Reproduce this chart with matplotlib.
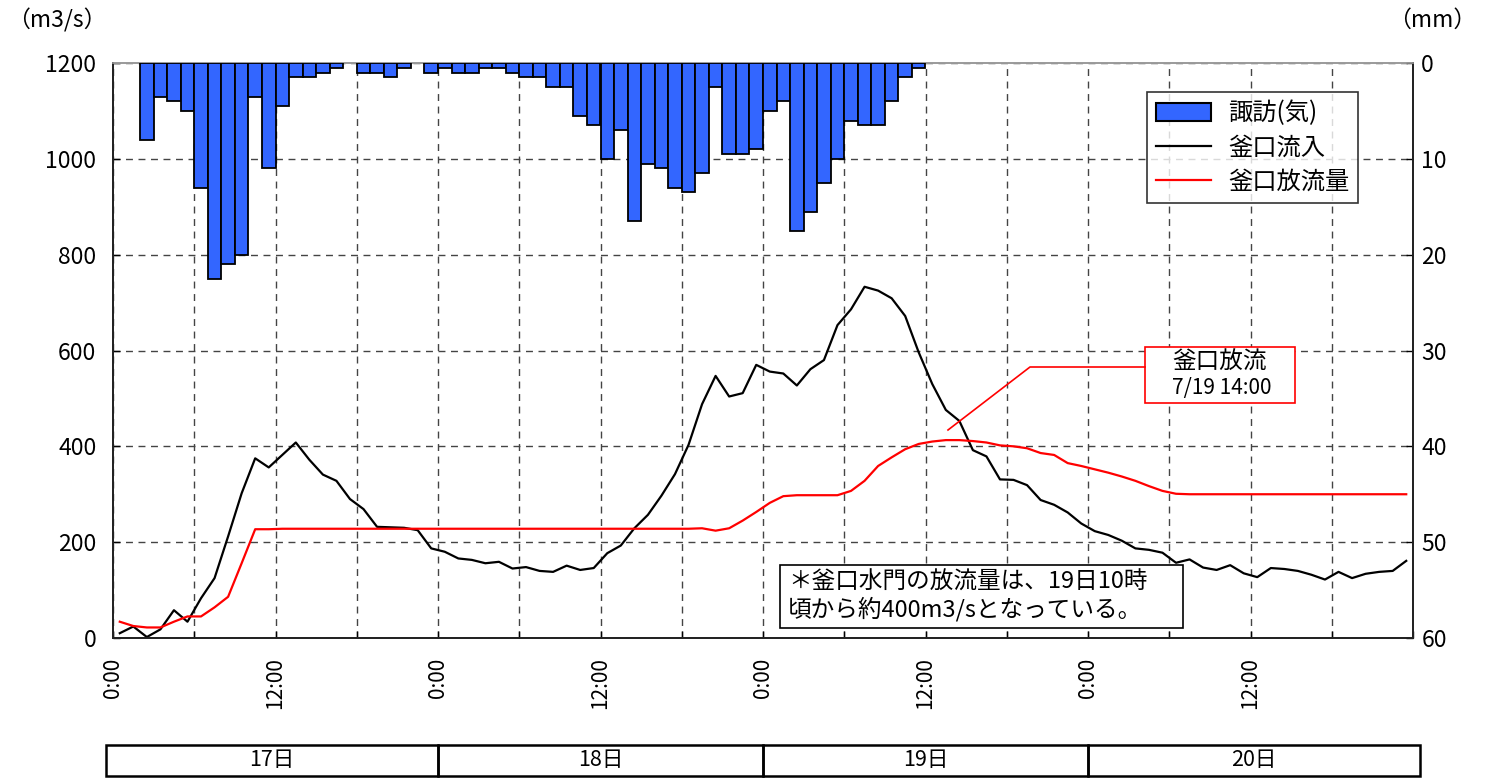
import numpy as np
import matplotlib
matplotlib.use("Agg")
import matplotlib.pyplot as plt
from matplotlib.patches import Patch, Rectangle
from matplotlib.lines import Line2D
import matplotlib.transforms as mtransforms

plt.rcParams['font.family'] = ['Noto Sans CJK JP', 'DejaVu Sans']

# ---------------- data ----------------
# hourly categories from 17日 0:00 to 20日 23:00
hours = np.arange(96)

# hourly rainfall (mm) at 諏訪(気), hours 0..59 (rest 0)
rain_obs = [0, 0, 8, 3.5, 4, 5, 13, 22.5, 21, 20,
            3.5, 11, 4.5, 1.5, 1.5, 1, 0.5, 0, 1, 1,
            1.5, 0.5, 0, 1, 0.5, 1, 1, 0.5, 0.5, 1,
            1.5, 1.5, 2.5, 2.5, 5.5, 6.5, 10, 7, 16.5, 10.5,
            11, 13, 13.5, 11.5, 2.5, 9.5, 9.5, 9, 5, 4,
            17.5, 15.5, 12.5, 10, 6, 6.5, 6.5, 4, 1.5, 0.5]

# 釜口流入 (m3/s)
inflow = [10, 24, 2, 18, 58, 34, 83, 125, 212, 302,
          375, 356, 382, 408, 372, 341, 328, 290, 269, 232,
          231, 230, 225, 187, 180, 166, 163, 156, 159, 145,
          148, 140, 138, 151, 142, 146, 177, 193, 229, 257,
          297, 342, 403, 488, 547, 504, 511, 570, 556, 552,
          527, 561, 580, 653, 686, 733, 725, 709, 672, 596,
          530, 476, 453, 392, 379, 331, 330, 319, 288, 278,
          262, 239, 223, 215, 203, 187, 184, 178, 157, 164,
          147, 142, 152, 135, 127, 146, 144, 140, 132, 122,
          138, 125, 134, 138, 140, 161]

# 釜口放流量 (m3/s)
outflow = [34, 25, 22, 22, 34, 45, 45, 64, 86, 156,
           227, 227, 228, 228, 228, 228, 228, 228, 228, 228,
           228, 228, 228, 228, 228, 228, 228, 228, 228, 228,
           228, 228, 228, 228, 228, 228, 228, 228, 228, 228,
           228, 228, 228, 229, 224, 229, 245, 263, 282, 296,
           298, 298, 298, 298, 307, 328, 359, 377, 394, 405,
           410, 413, 413, 411, 408, 402, 400, 396, 386, 382,
           365, 359, 352, 345, 337, 328, 317, 307, 301, 300,
           300, 300, 300, 300, 300, 300, 300, 300, 300, 300,
           300, 300, 300, 300, 300, 300]

xtick_hours = [0, 12, 24, 36, 48, 60, 72, 84]
xtick_labels = ['0:00', '12:00', '0:00', '12:00', '0:00', '12:00', '0:00', '12:00']
days = ['17日', '18日', '19日', '20日']
yticks_left = [0, 200, 400, 600, 800, 1000, 1200]
yticks_right = [0, 10, 20, 30, 40, 50, 60]

legend_labels = ['諏訪(気)', '釜口流入', '釜口放流量']
callout_title = '釜口放流'
callout_time = '7/19 14:00'
note_text = '＊釜口水門の放流量は、19日10時\n頃から約400m3/sとなっている。'

# ---------------- figure ----------------
W, H = 1490, 778
fig = plt.figure(figsize=(W / 100, H / 100), dpi=100)
L, R, T, B = 113, 1413, 63, 638
ax = fig.add_axes([L / W, 1 - B / H, (R - L) / W, (B - T) / H])
ax2 = ax.twinx()

x = hours + 0.5
rain = np.zeros(len(hours))
rain[:len(rain_obs)] = rain_obs
mask = rain > 0

ax2.bar(x[mask], rain[mask], width=1.0, color='#3366FF', edgecolor='black',
        linewidth=1.3, zorder=3)
ax.plot(x, inflow, color='black', lw=1.6, zorder=4)
ax.plot(x, outflow, color='#FF0000', lw=1.6, zorder=4)

ax.set_xlim(0, 96)
ax.set_ylim(0, 1200)
ax2.set_ylim(60, 0)

grid_x = np.arange(0, 97, 6)
ax.set_xticks(grid_x)
lab = {h: l for h, l in zip(xtick_hours, xtick_labels)}
ax.set_xticklabels([lab.get(h, '') for h in grid_x], rotation=90, fontsize=15)
ax.set_yticks(yticks_left)
ax.set_yticklabels([str(v) for v in yticks_left], fontsize=16.5)
ax2.set_yticks(yticks_right)
ax2.set_yticklabels([str(v) for v in yticks_right], fontsize=16.5)

ax.tick_params(axis='x', direction='in', length=5, pad=14, width=1)
ax.tick_params(axis='y', direction='in', length=5, pad=12, width=1)
ax2.tick_params(axis='y', direction='in', length=5, pad=6, width=1)

ax.grid(True, linestyle=(0, (5, 4)), color='#444444', lw=1.0)
ax.set_axisbelow(True)

for a in (ax, ax2):
    for s in ('left', 'bottom', 'right'):
        a.spines[s].set_color('#222222')
        a.spines[s].set_linewidth(1.3)
    a.spines['top'].set_color('#9a9a9a')
    a.spines['top'].set_linewidth(1.2)

# legend
handles = [Patch(facecolor='#3366FF', edgecolor='black', linewidth=1.5),
           Line2D([], [], color='black', lw=1.6),
           Line2D([], [], color='#FF0000', lw=1.6)]
leg = ax2.legend(handles, legend_labels, loc='upper left',
                 bbox_to_anchor=((1147 - L) / (R - L), (B - 92) / (B - T)),
                 fontsize=17.5, frameon=True, fancybox=False, handlelength=2.3,
                 handleheight=0.7, handletextpad=0.7, labelspacing=0.33,
                 borderpad=0.35, borderaxespad=0)
leg.get_frame().set_edgecolor('black')
leg.get_frame().set_linewidth(1.2)
leg.set_zorder(10)

def fx(px):
    return (px - L) / (R - L)

def fy(py):
    return (B - py) / (B - T)

# callout
ax2.add_patch(Rectangle((fx(1145), fy(403)), fx(1295) - fx(1145), fy(347) - fy(403),
                        transform=ax2.transAxes, facecolor='white', edgecolor='#FF0000',
                        lw=1.2, zorder=8))
ax2.plot([fx(948), fx(1030), fx(1145)], [fy(430), fy(367), fy(367)],
         transform=ax2.transAxes, color='#FF0000', lw=1.2, zorder=8)
ax2.text(fx(1220), fy(362), callout_title, transform=ax2.transAxes, ha='center',
         va='center', fontsize=17, zorder=9)
ax2.text(fx(1222), fy(388), callout_time, transform=ax2.transAxes, ha='center',
         va='center', fontsize=15, zorder=9)

# note box
ax2.add_patch(Rectangle((fx(780), fy(628)), fx(1183) - fx(780), fy(565) - fy(628),
                        transform=ax2.transAxes, facecolor='white', edgecolor='black',
                        lw=1.2, zorder=8))
ax2.text(fx(788), fy(596), note_text, transform=ax2.transAxes, ha='left',
         va='center', fontsize=17, linespacing=1.2, zorder=9)

# unit labels
fig.text(57 / W, 1 - 20 / H, '（m3/s）', ha='center', va='center', fontsize=16.5)
fig.text(1432 / W, 1 - 20 / H, '（mm）', ha='center', va='center', fontsize=16.5)

# date bar
trans = mtransforms.blended_transform_factory(ax.transData, fig.transFigure)
edges = [-0.5, 24, 48, 72, 96.5]
y0, y1 = 1 - 776 / H, 1 - 745 / H
for i, d in enumerate(days):
    fig.patches.append(Rectangle((edges[i], y0), edges[i + 1] - edges[i], y1 - y0,
                                 transform=trans, facecolor='none', edgecolor='black',
                                 lw=1.8, clip_on=False))
    fig.text((edges[i] + edges[i + 1]) / 2, (y0 + y1) / 2, d, transform=trans,
             ha='center', va='center', fontsize=15.5)

fig.savefig('out.png', dpi=100)
